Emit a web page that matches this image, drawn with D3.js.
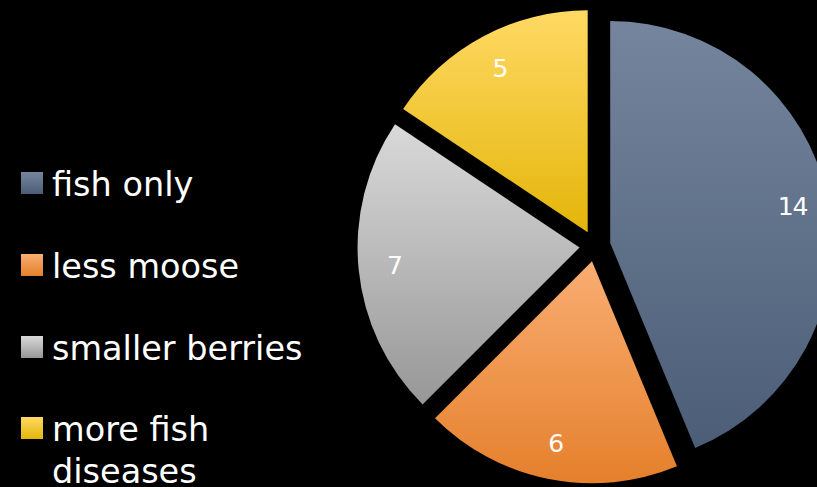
<!DOCTYPE html>
<html>
<head>
<meta charset="utf-8">
<script src="https://cdn.jsdelivr.net/npm/d3@7/dist/d3.min.js"></script>
<style>
  html, body { margin: 0; padding: 0; background: #000; }
  svg { display: block; }
  text { font-family: "DejaVu Sans", "Noto Sans", sans-serif; fill: #fff; }
</style>
</head>
<body>
<svg id="chart" width="817" height="487"></svg>
<script>
// Survey answers shown in the pie
const categories = ["fish only", "less moose", "smaller berries", "more fish diseases"];
const values = [14, 6, 7, 5];
// Gradient stops per slice (top, bottom)
const colorsTop = ["#74859d", "#f9ad72", "#d9d9d9", "#ffd963"];
const colorsBottom = ["#4c5d77", "#e5802c", "#979797", "#e4b50a"];
// Legend lines (long names wrap onto two lines)
const legendLines = [["fish only"], ["less moose"], ["smaller berries"], ["more fish", "diseases"]];

const W = 817, H = 487;
const cx = 595, cy = 246, R = 222, explode = 15.5, labelR = 186;

const svg = d3.select("#chart");
svg.append("rect").attr("width", W).attr("height", H).attr("fill", "#000");

const defs = svg.append("defs");
categories.forEach((c, i) => {
  const g = defs.append("linearGradient")
    .attr("id", "grad" + i)
    .attr("x1", 0).attr("y1", 0).attr("x2", 0).attr("y2", 1);
  g.append("stop").attr("offset", "0%").attr("stop-color", colorsTop[i]);
  g.append("stop").attr("offset", "100%").attr("stop-color", colorsBottom[i]);
});

const pie = d3.pie().sort(null).value(d => d)
  .startAngle(0).endAngle(2 * Math.PI);
const arcs = pie(values);
const arc = d3.arc().innerRadius(0).outerRadius(R);

const pieG = svg.append("g").attr("transform", `translate(${cx},${cy})`);

const slice = pieG.selectAll("g.slice")
  .data(arcs)
  .join("g")
  .attr("class", "slice")
  .attr("transform", d => {
    const a = (d.startAngle + d.endAngle) / 2;
    return `translate(${explode * Math.sin(a)},${-explode * Math.cos(a)})`;
  });

slice.append("path")
  .attr("d", arc)
  .attr("fill", (d, i) => `url(#grad${i})`);

slice.append("text")
  .attr("x", d => labelR * Math.sin((d.startAngle + d.endAngle) / 2))
  .attr("y", d => -labelR * Math.cos((d.startAngle + d.endAngle) / 2))
  .attr("text-anchor", "middle")
  .attr("dominant-baseline", "central")
  .attr("font-size", 25)
  .attr("letter-spacing", -1)
  .text(d => d.data);

// Legend
const legendTop = [172, 254, 336, 417];
const legend = svg.append("g");
legendLines.forEach((lines, i) => {
  legend.append("rect")
    .attr("x", 21).attr("y", legendTop[i])
    .attr("width", 22).attr("height", 22)
    .attr("fill", `url(#grad${i})`);
  const t = legend.append("text")
    .attr("x", 52).attr("y", legendTop[i] + 24)
    .attr("font-size", 33.5);
  lines.forEach((ln, j) => {
    t.append("tspan").attr("x", 52).attr("dy", j === 0 ? 0 : 42).text(ln);
  });
});
</script>
</body>
</html>
